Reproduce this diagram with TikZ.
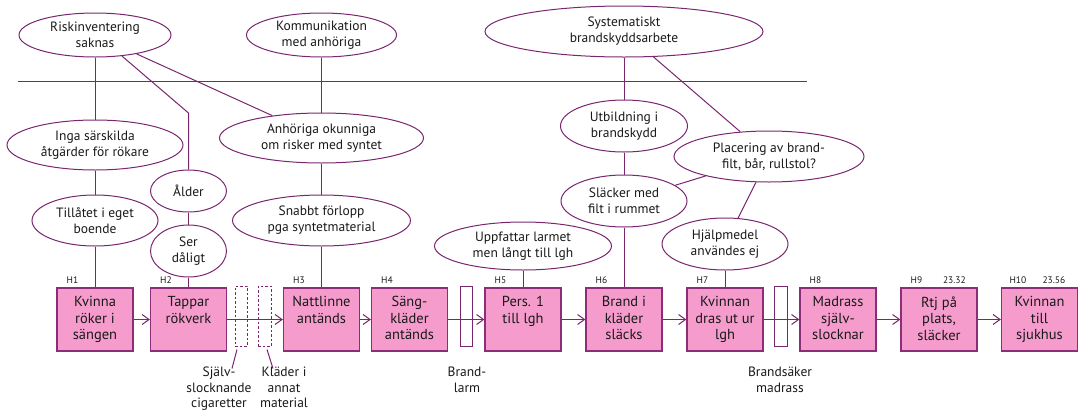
\documentclass[tikz,border=0pt]{standalone}
\usepackage{fontspec}
\setmainfont{PT Sans}
\usetikzlibrary{shapes.geometric,arrows.meta,calc}
\definecolor{plum}{RGB}{122,38,110}
\definecolor{boxpink}{RGB}{246,156,204}
\definecolor{boxedge}{RGB}{140,45,120}
\begin{document}
\begin{tikzpicture}[x=1pt,y=-1pt,
  every node/.style={font=\fontsize{13.5}{16}\selectfont, text=black!90},
  link/.style={draw=plum, line width=1pt},
  flow/.style={draw=plum, line width=1pt, -{Straight Barb[length=7pt,width=10pt]}},
  cause/.style={ellipse, draw=plum, line width=1pt, inner sep=0pt, align=center},
  event/.style={rectangle, draw=boxedge, fill=boxpink, line width=1.2pt,
    minimum width=76pt, minimum height=63pt, inner sep=0pt},
  evtext/.style={anchor=north, align=center, inner sep=0pt, yshift=-9pt,
    font=\fontsize{14.5}{16.5}\selectfont, execute at begin node={\rule{0pt}{13pt}}},
  barrier/.style={rectangle, draw=plum, line width=1pt, minimum width=12pt,
    minimum height=60pt, inner sep=0pt},
  hlab/.style={font=\fontsize{9.5}{11}\selectfont, inner sep=0pt},
  blab/.style={anchor=north, align=center, inner sep=0pt, font=\fontsize{13.5}{15.5}\selectfont}
]
\useasboundingbox (0,0) rectangle (1080,413);

% horizontal divider
\coordinate (hl) at (18,81);
\coordinate (hr) at (807,81);
\draw[link] (hl) -- (hr);

% contributing causes
\node[cause, minimum width=152pt, minimum height=44pt] (risk) at (95,35) {Riskinventering\\saknas};
\node[cause, minimum width=150pt, minimum height=44pt] (komm) at (321.5,35) {Kommunikation\\med anhöriga};
\node[cause, minimum width=278pt, minimum height=51pt] (syst) at (624,31.5) {Systematiskt\\brandskyddsarbete};
\node[cause, minimum width=176pt, minimum height=50pt] (inga) at (95,145) {Inga särskilda\\åtgärder för rökare};
\node[cause, minimum width=126pt, minimum height=51pt] (tillat) at (95,220.5) {Tillåtet i eget\\boende};
\node[cause, minimum width=76pt, minimum height=42pt] (alder) at (188.5,191) {Ålder};
\node[cause, minimum width=76pt, minimum height=52pt] (ser) at (188.5,251) {Ser\\dåligt};
\node[cause, minimum width=204pt, minimum height=50pt] (anhor) at (321.5,138) {Anhöriga okunniga\\om risker med syntet};
\node[cause, minimum width=178pt, minimum height=51pt] (snabbt) at (321.5,220.5) {Snabbt förlopp\\pga syntetmaterial};
\node[cause, minimum width=127pt, minimum height=52pt] (utb) at (624,126) {Utbildning i\\brandskydd};
\node[cause, minimum width=126pt, minimum height=52pt] (slack) at (624,201) {Släcker med\\filt i rummet};
\node[cause, minimum width=190pt, minimum height=51pt] (plac) at (769,156.5) {Placering av brand-\\filt, bår, rullstol?};
\node[cause, minimum width=126pt, minimum height=52pt] (hjalp) at (725,244) {Hjälpmedel\\användes ej};
\node[cause, minimum width=177pt, minimum height=48pt] (uppf) at (523,246) {Uppfattar larmet\\men långt till lgh};

% event chain
\node[event] (h1) at (95,319.5) {};
\node[event] (h2) at (188.5,319.5) {};
\node[event] (h3) at (321.5,319.5) {};
\node[event] (h4) at (409.5,319.5) {};
\node[event] (h5) at (523,319.5) {};
\node[event] (h6) at (624,319.5) {};
\node[event] (h7) at (725,319.5) {};
\node[event] (h8) at (838,319.5) {};
\node[event] (h9) at (939,319.5) {};
\node[event] (h10) at (1039.5,319.5) {};

\node[evtext] (t1) at (h1.north) {Kvinna\\röker i\\sängen};
\node[evtext] (t2) at (h2.north) {Tappar\\rökverk};
\node[evtext] (t3) at (h3.north) {Nattlinne\\antänds};
\node[evtext] (t4) at (h4.north) {Säng-\\kläder\\antänds};
\node[evtext] (t5) at (h5.north) {Pers. 1\\till lgh};
\node[evtext] (t6) at (h6.north) {Brand i\\kläder\\släcks};
\node[evtext] (t7) at (h7.north) {Kvinnan\\dras ut ur\\lgh};
\node[evtext] (t8) at (h8.north) {Madrass\\själv-\\slocknar};
\node[evtext] (t9) at (h9.north) {Rtj på\\plats,\\släcker};
\node[evtext] (t10) at (h10.north) {Kvinnan\\till\\sjukhus};

% event numbers and times
\node[hlab] (n1) at ($(h1.north west)+(16,-7)$) {H1};
\node[hlab] (n2) at ($(h2.north west)+(16,-7)$) {H2};
\node[hlab] (n3) at ($(h3.north west)+(16,-7)$) {H3};
\node[hlab] (n4) at ($(h4.north west)+(16,-7)$) {H4};
\node[hlab] (n5) at ($(h5.north west)+(16,-7)$) {H5};
\node[hlab] (n6) at ($(h6.north west)+(16,-7)$) {H6};
\node[hlab] (n7) at ($(h7.north west)+(16,-7)$) {H7};
\node[hlab] (n8) at ($(h8.north west)+(16,-7)$) {H8};
\node[hlab] (n9) at ($(h9.north west)+(16,-7)$) {H9};
\node[hlab] (n10) at ($(h10.north west)+(17,-7)$) {H10};
\node[hlab] (c9) at ($(h9.north west)+(54,-7)$) {23.32};
\node[hlab] (c10) at ($(h10.north west)+(53,-7)$) {23.56};

% barriers
\node[barrier, dash pattern=on 2.5pt off 2pt] (bar1) at (241,316) {};
\node[barrier, dash pattern=on 2.5pt off 2pt, minimum width=13pt] (bar2) at (264.5,316) {};
\node[barrier] (bar3) at (466,316) {};
\node[barrier, minimum width=13pt] (bar4) at (780.5,316) {};

\node[blab] (b1) at (219,367) {Själv-\\slocknande\\cigaretter};
\node[blab] (b2) at (284,367) {Kläder i\\annat\\material};
\node[blab] (b3) at (467,367) {Brand-\\larm};
\node[blab] (b4) at (780,367) {Brandsäker\\madrass};
\draw[link] ([xshift=-4pt,yshift=-3pt]bar1.south) -- ++(-5,19);
\draw[link] ([xshift=2.5pt,yshift=-3pt]bar2.south) -- ++(6,19);

% cause links
\draw[link] (risk) -- (inga);
\draw[link] (inga) -- (tillat);
\draw[link] (tillat) -- (h1);
\coordinate (bend) at (188.5,113);
\draw[link] (risk.-38) -- (bend) -- (alder);
\draw[link] (alder) -- (ser);
\draw[link] (ser) -- (h2);
\draw[link] (risk) -- (anhor);
\draw[link] (komm) -- (anhor);
\draw[link] (anhor) -- (snabbt);
\draw[link] (snabbt) -- (h3);
\draw[link] (uppf) -- (h5);
\draw[link] (syst) -- (utb);
\draw[link] (utb) -- (slack);
\draw[link] (slack) -- (h6);
\draw[link] (syst) -- (plac);
\draw[link] (slack) -- (plac);
\draw[link] (plac) -- (hjalp);
\draw[link] (hjalp) -- (h7);

% event flow
\draw[flow] (h1) -- (h2);
\draw[flow] (h2) -- (h3);
\draw[flow] (h3) -- (h4);
\draw[flow] (h4) -- (h5);
\draw[flow] (h5) -- (h6);
\draw[flow] (h6) -- (h7);
\draw[flow] (h7) -- (h8);
\draw[flow] (h8) -- (h9);
\draw[flow] (h9) -- (h10);
\end{tikzpicture}
\end{document}
